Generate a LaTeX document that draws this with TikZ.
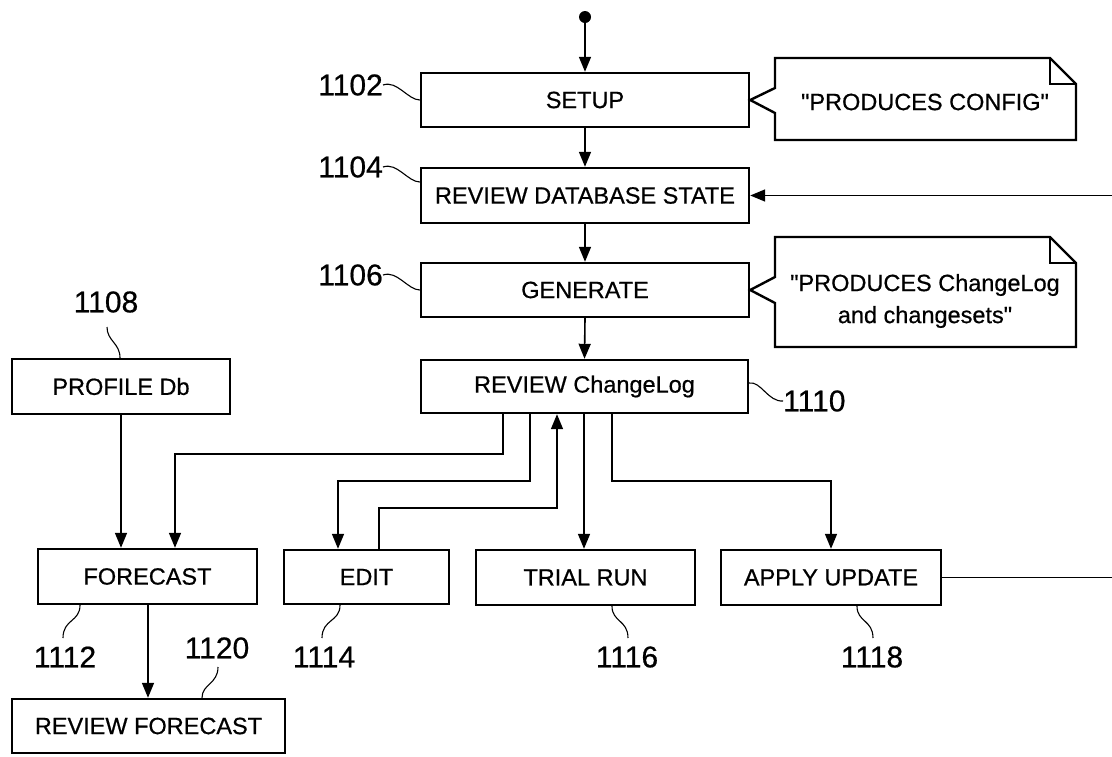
\documentclass[tikz,border=0pt]{standalone}
\usepackage{fontspec}
\setmainfont{Liberation Sans}[Ligatures=TeXOff,FakeBold=0.6]
\usetikzlibrary{arrows.meta}
\begin{document}
\begin{tikzpicture}[x=1pt,y=-1pt,
  box/.style={draw,line width=2.4pt,inner sep=0pt,font=\fontsize{23.5}{26}\selectfont,anchor=center},
  txt/.style={inner sep=0pt,font=\fontsize{23.5}{32}\selectfont,align=center},
  conn/.style={line width=1.6pt},
  arr/.style={conn,-{Triangle[length=15pt,width=12pt]}},
  lead/.style={line width=1.1pt},
  num/.style={font=\fontsize{30}{32}\selectfont,inner sep=0pt},
  notebox/.style={line width=2.4pt,line join=miter}]
\useasboundingbox (0,0) rectangle (1112,756);

% main column
\node[box,minimum width=328pt,minimum height=54pt] (setup) at (585,100) {SETUP};
\node[box,minimum width=328pt,minimum height=55pt] (rdb) at (585,195.5) {REVIEW DATABASE STATE};
\node[box,minimum width=328pt,minimum height=54pt] (gen) at (585,290) {GENERATE};
\node[box,minimum width=327pt,minimum height=53pt] (chlog) at (584.5,386.5) {REVIEW ChangeLog};
\node[box,minimum width=218pt,minimum height=55pt] (pdb) at (121,386.5) {PROFILE Db};

% lower row
\node[box,minimum width=219pt,minimum height=55pt] (fc) at (147.5,576.5) {FORECAST};
\node[box,minimum width=165pt,minimum height=54pt] (edit) at (366.5,577) {EDIT};
\node[box,minimum width=219pt,minimum height=55pt] (trial) at (585.5,577.5) {TRIAL RUN};
\node[box,minimum width=220pt,minimum height=55pt] (apply) at (831,577.5) {APPLY UPDATE};
\node[box,minimum width=273pt,minimum height=54pt] (rfc) at (148.5,726) {REVIEW FORECAST};

% start
\node[circle,fill,inner sep=0pt,minimum size=12pt] (start) at (585,17) {};
\draw[arr] (start) -- (setup.north);
\draw[arr] (setup.south) -- (rdb.north);
\draw[arr] (rdb.south) -- (gen.north);
\draw[arr] (gen.south) -- (chlog.north);

% connectors below ChangeLog
\draw[arr] (pdb.south) -- (fc.north -| pdb.south);
\draw[arr] (chlog.south -| 503,0) |- (175,454) -- (fc.north -| 175,0);
\draw[arr] (chlog.south -| 530,0) |- (338,481) -- (edit.north -| 338,0);
\draw[arr] (edit.north -| 379,0) |- (557,508) -- (chlog.south -| 557,0);
\draw[arr] (chlog.south -| 584,0) -- (trial.north -| 584,0);
\draw[arr] (chlog.south -| 612,0) |- (831,481) -- (apply.north);
\draw[arr] (fc.south -| 148,0) -- (rfc.north -| 148,0);

% feedback loop (continues beyond the right edge)
\coordinate (fbtop) at (1112,195.5);
\coordinate (fbbot) at (1112,577.5);
\draw[conn] (apply.east) -- (fbbot);
\draw[arr] (fbtop) -- (rdb.east);

% notes
\draw[notebox] (775,58) -- (1050,58) -- (1076,84) -- (1076,140) -- (775,140) -- (775,113) -- (setup.east) -- (775,88) -- cycle;
\draw[notebox] (1050,58) -- (1050,84) -- (1076,84);
\node[txt] (n1) at (925,102) {"PRODUCES CONFIG"};

\draw[notebox] (775,237) -- (1050,237) -- (1076,263) -- (1076,347) -- (775,347) -- (775,303) -- (gen.east) -- (775,277) -- cycle;
\draw[notebox] (1050,237) -- (1050,263) -- (1076,263);
\node[txt] (n2) at (925,301) {"PRODUCES ChangeLog\\and changesets"};

% reference numerals
\node[num,anchor=east] (l1102) at (383,85) {1102};
\draw[lead] (l1102.east) .. controls (397,80) and (408,100) .. (setup.west);
\node[num,anchor=east] (l1104) at (383,167) {1104};
\draw[lead] (l1104.east) .. controls (397,162) and (408,182) .. (rdb.west |- 0,182);
\node[num,anchor=east] (l1106) at (383,275) {1106};
\draw[lead] (l1106.east) .. controls (397,270) and (408,290) .. (gen.west);
\node[num] (l1108) at (106,302) {1108};
\draw[lead] (pdb.north -| 120,0) .. controls (120,343) and (107,341) .. (107,327);
\node[num,anchor=west] (l1110) at (783,401) {1110};
\draw[lead] (chlog.east |- 0,383) .. controls (761,381) and (768,402) .. (l1110.west);
\node[num] (l1112) at (65,657) {1112};
\draw[lead] (fc.south -| 80,0) .. controls (80,622) and (63,619) .. (63,638);
\node[num] (l1114) at (324,657) {1114};
\draw[lead] (edit.south -| 340,0) .. controls (340,622) and (322,619) .. (322,638);
\node[num] (l1116) at (627,657) {1116};
\draw[lead] (trial.south -| 612,0) .. controls (612,622) and (628,620) .. (628,638);
\node[num] (l1118) at (872,657) {1118};
\draw[lead] (apply.south -| 857,0) .. controls (857,622) and (873,620) .. (873,638);
\node[num] (l1120) at (217,648) {1120};
\draw[lead] (rfc.north -| 202,0) .. controls (202,684) and (218,684) .. (218,667);
\end{tikzpicture}
\end{document}
